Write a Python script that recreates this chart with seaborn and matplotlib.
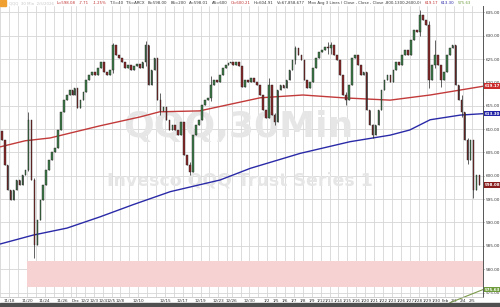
import matplotlib
matplotlib.use("Agg")
import matplotlib.pyplot as plt
import seaborn as sns
import pandas as pd
from matplotlib.transforms import blended_transform_factory
from matplotlib.patches import Rectangle

# ---------------- data ----------------
days = ["11/17", "11/18", "11/19", "11/20", "11/21", "11/24", "11/25", "11/26", "11/28",
        "12/1", "12/2", "12/3", "12/4", "12/5", "12/8", "12/9", "12/10", "12/11", "12/12",
        "12/15", "12/16", "12/17", "12/18", "12/19", "12/22", "12/23", "12/24", "12/26",
        "12/29", "12/30", "12/31", "1/2", "1/5", "1/6", "1/7", "1/8", "1/9", "1/12", "1/13",
        "1/14", "1/15", "1/16", "1/20", "1/21", "1/22", "1/23", "1/26", "1/27", "1/28",
        "1/29", "1/30", "2/2", "2/3", "2/4", "2/5"]
half_days = ["11/28", "12/24"]

first_open = 609.5
closes = [
    607.7, 602.3, 597.0,   # 11/17
    594.8, 597.0, 599.1,   # 11/18
    598.0, 600.2, 601.3,   # 11/19
    612.0, 599.1, 585.2,   # 11/20
    590.6, 594.8, 598.0,   # 11/21
    601.3, 603.4, 605.1,   # 11/24
    606.0, 609.8, 613.7,   # 11/25
    616.2, 617.3, 618.4,   # 11/26
    617.3, 618.8,          # 11/28
    614.5, 616.2, 617.9,   # 12/1
    620.5, 621.6, 622.2,   # 12/2
    621.6, 623.1, 624.4,   # 12/3
    622.2, 621.6, 622.7,   # 12/4
    628.0, 625.9, 625.2,   # 12/5
    624.4, 623.1, 623.7,   # 12/8
    622.7, 623.5, 623.9,   # 12/9
    623.1, 624.4, 628.0,   # 12/10
    619.4, 622.7, 625.2,   # 12/11
    616.2, 613.9, 614.8,   # 12/12
    612.0, 609.8, 610.9,   # 12/15
    609.8, 608.7, 611.5,   # 12/16
    604.5, 602.3, 600.8,   # 12/17
    608.7, 610.9, 612.0,   # 12/18
    615.2, 616.2, 616.7,   # 12/19
    619.4, 620.5, 620.1,   # 12/22
    621.6, 623.1, 623.7,   # 12/23
    624.1, 624.4,          # 12/24
    623.7, 624.4, 623.5,   # 12/26
    619.0, 620.5, 620.1,   # 12/29
    620.9, 620.1, 619.4,   # 12/30
    617.3, 614.1, 612.4,   # 12/31
    619.4, 613.0, 611.5,   # 1/2
    618.4, 619.4, 618.8,   # 1/5
    620.5, 622.7, 624.8,   # 1/6
    627.4, 625.9, 624.8,   # 1/7
    620.5, 618.8, 620.1,   # 1/8
    623.1, 625.2, 626.5,   # 1/9
    626.9, 627.6, 627.4,   # 1/12
    628.0, 625.9, 624.8,   # 1/13
    621.6, 617.3, 616.2,   # 1/14
    619.4, 625.2, 625.9,   # 1/15
    623.7, 621.6, 622.2,   # 1/16
    614.1, 610.9, 608.7,   # 1/20
    610.9, 614.1, 618.4,   # 1/21
    620.5, 621.6, 620.1,   # 1/22
    622.7, 624.4, 623.7,   # 1/23
    625.9, 626.9, 625.9,   # 1/26
    629.1, 631.2, 630.8,   # 1/27
    634.4, 633.4, 632.3,   # 1/28
    620.5, 623.7, 625.9,   # 1/29
    623.7, 620.5, 622.2,   # 1/30
    625.9, 627.4, 628.0,   # 2/2
    619.4, 616.2, 613.7,   # 2/3
    607.7, 603.4, 607.7,   # 2/4
    597.0, 600.2, 598.1,   # 2/5
]
# extreme wicks: (day, bar in day) -> (low, high)
wick_extremes = {("11/20", 0): (601.0, 613.6), ("11/20", 2): (582.4, 599.5),
                 ("12/5", 0): (622.0, 628.4), ("12/10", 2): (623.5, 628.9),
                 ("12/12", 1): (613.0, 617.8), ("12/17", 2): (600.2, 603.0),
                 ("12/22", 0): (616.0, 621.4), ("1/2", 0): (616.5, 620.9),
                 ("1/2", 2): (610.9, 613.5), ("1/7", 0): (624.0, 627.8),
                 ("1/12", 2): (626.0, 628.6), ("1/13", 0): (626.0, 628.6),
                 ("1/14", 2): (615.2, 618.0), ("1/20", 2): (608.1, 611.0),
                 ("1/28", 0): (630.0, 635.5), ("1/29", 0): (618.9, 633.2),
                 ("1/29", 2): (623.0, 629.0), ("1/30", 1): (619.0, 623.8),
                 ("2/3", 2): (612.5, 617.2), ("2/4", 1): (602.5, 608.0),
                 ("2/5", 0): (595.2, 604.9)}

ma800_x = [0, 2.8, 5.6, 11.2, 15.7, 17.9, 22.4, 29.2, 34.0, 38.5, 43.8, 48.3, 54.24]
ma800_v = [606.2, 607.5, 608.1, 610.7, 612.6, 613.7, 613.9, 616.7, 617.3, 616.7, 616.2, 617.3, 619.17]
ma1300_x = [0, 3.7, 7.5, 11.2, 14.9, 19.1, 24.7, 28.1, 33.7, 39.3, 43.8, 46.0, 48.3, 51.7, 54.24]
ma1300_v = [585.4, 587.3, 588.8, 591.2, 593.8, 596.6, 599.1, 601.6, 604.8, 607.3, 608.7, 609.8, 612.0, 613.0, 613.3]
ma2600_x = [50.5, 54.24]
ma2600_v = [572.8, 575.63]

zone_low, zone_high = 576.2, 581.8
zone_start_day = "11/21"

tick_days = ["11/18", "11/20", "11/24", "11/26", "12/1", "12/2", "12/3", "12/4", "12/5", "12/8",
             "12/10", "12/15", "12/17", "12/19", "12/23", "12/26", "12/30", "1/2", "1/5", "1/6",
             "1/7", "1/8", "1/9", "1/12", "1/13", "1/14", "1/15", "1/16", "1/20", "1/21", "1/22",
             "1/23", "1/26", "1/27", "1/28", "1/29", "1/30", "2/2", "2/3", "2/4", "2/5"]
tick_text = ["11/18", "11/20", "11/24", "11/26", "Dec", "12/2", "12/3", "12/4", "12/5", "12/8",
             "12/10", "12/15", "12/17", "12/19", "12/23", "12/26", "12/30", "1/2", "1/5", "1/6",
             "1/7", "1/8", "1/9", "1/12", "1/13", "1/14", "1/15", "1/16", "1/20", "1/21", "1/22",
             "1/23", "1/26", "1/27", "1/28", "1/29", "1/30", "Feb", "2/3", "2/4", "2/5"]
price_ticks = [575, 580, 585, 590, 595, 600, 605, 610, 615, 620, 625, 630, 635]

header = [("QQQ  30 Min  2/5/2026", "#c8c8c8"), ("L=598.08", "#c03030"), ("-7.71", "#c03030"),
          ("-1.25%", "#c03030"), ("T3=40", "#333333"), ("TS=ARCX", "#333333"),
          ("B=598.00", "#333333"), ("BS=200", "#333333"), ("A=598.01", "#333333"),
          ("AS=600", "#333333"), ("O=600.21", "#c03030"), ("H=604.91", "#333333"),
          ("V=67,858,677", "#333333"),
          ("Mov Avg 3 Lines ( Close , Close , Close ,800,1300,2600,0)", "#333333"),
          ("619.17", "#c03030"), ("613.30", "#2424a6"), ("575.63", "#6e9c3c")]

# ---------------- layout of bars on the session axis ----------------
xs, ws, keys, day_start = [], [], [], {}
u = 0.0
for d in days:
    w = 0.5 if d in half_days else 1.0
    n = 2 if d in half_days else 3
    day_start[d] = u
    for k in range(n):
        xs.append(u + (k + 0.5) * w / n)
        ws.append(0.55 * w / n)
        keys.append((d, k))
    u += w
assert len(xs) == len(closes), (len(xs), len(closes))

opens = [first_open] + closes[:-1]
df = pd.DataFrame({"x": xs, "w": ws, "open": opens, "close": closes})
df["body_lo"] = df[["open", "close"]].min(axis=1)
df["body_hi"] = df[["open", "close"]].max(axis=1)
df["lo"] = df["body_lo"]
df["hi"] = df["body_hi"]
for i, key in enumerate(keys):
    if key in wick_extremes:
        lo, hi = wick_extremes[key]
        df.loc[i, "lo"] = min(df.loc[i, "lo"], lo)
        df.loc[i, "hi"] = max(df.loc[i, "hi"], hi)

# ---------------- figure ----------------
sns.set_theme(style="white")
NARROW = ["Liberation Sans Narrow", "DejaVu Sans"]
plt.rcParams["font.family"] = ["DejaVu Sans"]
fig = plt.figure(figsize=(5.0, 3.07), dpi=100)
fig.patch.set_facecolor("white")
ax = fig.add_axes([0.0, 0.033, 0.966, 0.947])
ax.set_facecolor("white")

ax.set_xlim(-0.03, 54.24)
ax.set_ylim(574.07, 636.33)

# grid
for d in days:
    ax.axvline(day_start[d], color="#d6d6d6", lw=0.6, zorder=0)
for p in price_ticks:
    ax.axhline(p, color="#d6d6d6", lw=0.6, zorder=0)

# support zone
ax.fill_between([day_start[zone_start_day] - 1.0, 54.24], zone_low, zone_high,
                color="#f6d2d2", lw=0, zorder=0.5)

# watermark
ax.text(0.493, 0.585, "QQQ,30Min", transform=ax.transAxes, ha="center", va="center",
        fontsize=26, color="#e6e6e6", fontweight="bold", zorder=0.6)
ax.text(0.497, 0.400, "Invesco QQQ Trust Series 1", transform=ax.transAxes, ha="center",
        va="center", fontsize=12.5, color="#e6e6e6", fontweight="bold", zorder=0.6)

# moving averages
sns.lineplot(x=ma800_x, y=ma800_v, ax=ax, color="#c23a3a", lw=1.0, zorder=2)
sns.lineplot(x=ma1300_x, y=ma1300_v, ax=ax, color="#2a2aa8", lw=1.0, zorder=2)
ax.plot(ma2600_x, ma2600_v, color="#7a9a4a", lw=0.8, zorder=2, clip_on=False)

# candles
up = df["close"] >= df["open"]
colors = ["#3f7d4a" if v else "#8a2626" for v in up]
ax.vlines(df["x"], df["lo"], df["hi"], color="#222222", lw=0.5, zorder=3)
ax.bar(df["x"], (df["body_hi"] - df["body_lo"]).clip(lower=0.15), bottom=df["body_lo"],
       width=df["w"], color=colors, edgecolor="#222222", linewidth=0.3, zorder=4)

# axes styling
for s in ["top", "left"]:
    ax.spines[s].set_visible(False)
ax.spines["right"].set_color("#555555")
ax.spines["right"].set_linewidth(0.7)
ax.spines["bottom"].set_color("#bbbbbb")
ax.spines["bottom"].set_linewidth(0.5)
ax.yaxis.tick_right()
ax.set_yticks(price_ticks)
ax.set_yticklabels([f"{p:.2f}" for p in price_ticks], fontsize=3.0, color="#333333",
                   family=NARROW)
ax.tick_params(axis="y", length=1.0, width=0.4, pad=1.2, colors="#333333")
ax.set_xticks([day_start[d] for d in tick_days])
ax.set_xticklabels(tick_text, fontsize=3.0, color="#333333", family=NARROW)
ax.tick_params(axis="x", length=0, pad=1.3)
ax.set_xlabel("")
ax.set_ylabel("")

# value boxes on the price scale
tr = blended_transform_factory(ax.transAxes, ax.transData)
for val, bg in [(619.17, "#cc2b2b"), (613.30, "#2424a6"), (598.08, "#8a1f1f"), (575.63, "#6e9c3c")]:
    ax.text(1.004, val, f"{val:.2f}", transform=tr, ha="left", va="center", fontsize=2.9,
            color="white", fontweight="bold", zorder=6, clip_on=False, family=NARROW,
            bbox=dict(boxstyle="square,pad=0.2", fc=bg, ec="none"))

# header line, laid out left to right
fig.patches.append(Rectangle((0.0, 0.982), 0.012, 0.018, transform=fig.transFigure,
                             color="#f0a030", zorder=5))
renderer = fig.canvas.get_renderer()
xpos = 9.0
for t, c in header:
    txt = fig.text(xpos / 500, 0.990, t, fontsize=2.8, color=c, ha="left", va="center",
                   family=NARROW)
    xpos += txt.get_window_extent(renderer).width + 3.2

# bottom strip
fig.patches.append(Rectangle((0.0, 0.0), 1.0, 0.012, transform=fig.transFigure,
                             color="#505050", zorder=5))

fig.savefig("out.png", dpi=100)
